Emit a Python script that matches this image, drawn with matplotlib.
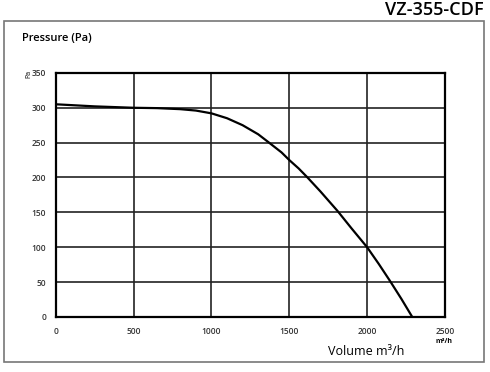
import numpy as np
import matplotlib.pyplot as plt
from matplotlib.patches import Rectangle

# data
volume = [0, 250, 500, 650, 800, 900, 1000, 1100, 1200, 1300, 1364, 1450, 1500, 1560, 1617, 1700, 1810, 1900, 2000, 2075, 2146, 2220, 2290]
pressure = [305, 302, 300, 299.5, 298, 296, 292, 285, 275, 262, 251, 236, 225, 213, 200, 180, 152, 127, 100, 76, 52, 26, 0]
x_ticks = [0, 500, 1000, 1500, 2000, 2500]
y_ticks = [0, 50, 100, 150, 200, 250, 300, 350]

plt.rcParams['font.family'] = ['Open Sans', 'DejaVu Sans']

fig = plt.figure(figsize=(4.9, 3.72), dpi=100)

# outer frame
fig.patches.append(Rectangle((0.008, 0.027), 0.98, 0.917, transform=fig.transFigure,
                             fill=False, edgecolor='#777777', linewidth=1.2))

ax = fig.add_axes([0.114, 0.148, 0.794, 0.656])
ax.plot(volume, pressure, color='black', linewidth=1.6, zorder=3)
ax.set_xlim(0, 2500)
ax.set_ylim(0, 350)
ax.set_xticks(x_ticks)
ax.set_yticks(y_ticks)
ax.grid(True, color='#222222', linewidth=1.2)
for s in ax.spines.values():
    s.set_linewidth(1.6)
    s.set_color('black')
ax.tick_params(length=0, labelsize=6, pad=7)
for lab in ax.get_xticklabels() + ax.get_yticklabels():
    lab.set_fontweight('semibold')
    lab.set_color('#333333')

fig.text(0.986, 0.972, 'VZ-355-CDF', ha='right', va='center', fontsize=13, fontweight='semibold')
fig.text(0.045, 0.897, 'Pressure (Pa)', ha='left', va='center', fontsize=8, fontweight='semibold')
fig.text(0.059, 0.80, 'Pa', ha='center', va='center', fontsize=5, rotation=90)
fig.text(0.906, 0.081, 'm³/h', ha='center', va='center', fontsize=5, fontweight='bold')
fig.text(0.747, 0.054, 'Volume m³/h', ha='center', va='center', fontsize=9)

fig.savefig('out.png', dpi=100)
